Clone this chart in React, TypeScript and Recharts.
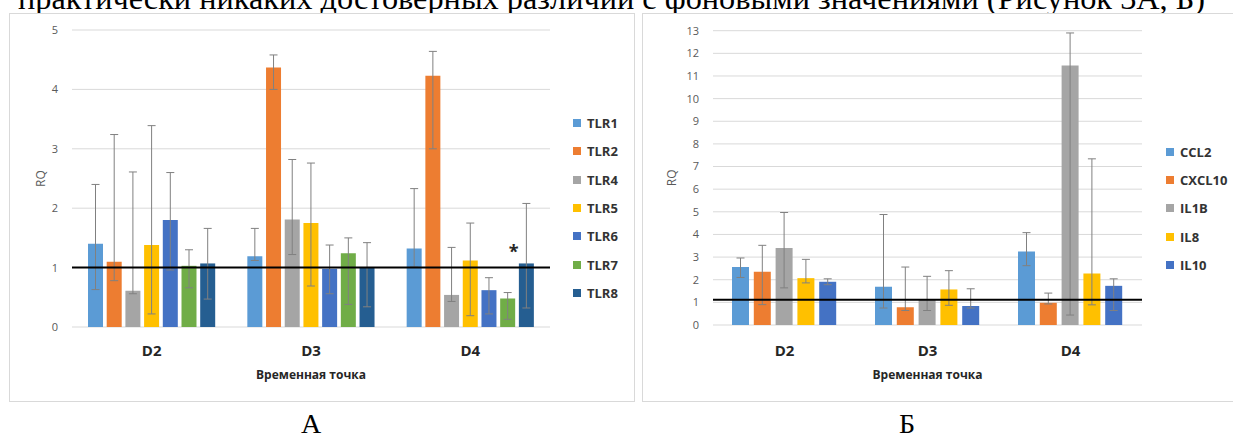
import React from 'react'
import {
  Bar,
  BarChart,
  CartesianGrid,
  ErrorBar,
  Label,
  LabelList,
  Legend,
  ReferenceLine,
  XAxis,
  YAxis,
} from 'recharts'

const FONT = '"Open Sans", "Liberation Sans", sans-serif'
const SERIF = '"Liberation Serif", "Times New Roman", serif'

const days = ['D2', 'D3', 'D4']

// --- Рисунок А: TLR
const tlrNames = ['TLR1', 'TLR2', 'TLR4', 'TLR5', 'TLR6', 'TLR7', 'TLR8']
const tlrColors = ['#5B9BD5', '#ED7D31', '#A5A5A5', '#FFC000', '#4472C4', '#70AD47', '#255E91']
const tlrValues = [
  [1.4, 1.19, 1.32],
  [1.1, 4.37, 4.23],
  [0.61, 1.81, 0.54],
  [1.38, 1.75, 1.12],
  [1.8, 0.98, 0.62],
  [1.03, 1.24, 0.48],
  [1.07, 1.01, 1.07],
]
const tlrHigh = [
  [2.4, 1.66, 2.33],
  [3.24, 4.58, 4.64],
  [2.61, 2.82, 1.34],
  [3.39, 2.76, 1.75],
  [2.6, 1.38, 0.83],
  [1.3, 1.5, 0.58],
  [1.66, 1.42, 2.08],
]
const tlrLow = [
  [0.63, 1.12, 1.01],
  [0.78, 4.0, 3.0],
  [0.56, 1.22, 0.43],
  [0.22, 0.69, 0.19],
  [0.96, 0.56, 0.22],
  [0.66, 0.38, 0.13],
  [0.47, 0.34, 0.32],
]
const tlr7Marks = ['', '', '*']
const tlrTicks = [0, 1, 2, 3, 4, 5]
const tlrBaseline = 1

// --- Рисунок Б: цитокины
const cytNames = ['CCL2', 'CXCL10', 'IL1B', 'IL8', 'IL10']
const cytColors = ['#5B9BD5', '#ED7D31', '#A5A5A5', '#FFC000', '#4472C4']
const cytValues = [
  [2.56, 1.69, 3.25],
  [2.35, 0.78, 0.98],
  [3.4, 1.12, 11.46],
  [2.07, 1.57, 2.28],
  [1.91, 0.84, 1.73],
]
const cytHigh = [
  [2.96, 4.88, 4.08],
  [3.52, 2.56, 1.41],
  [4.97, 2.15, 12.9],
  [2.9, 2.4, 7.34],
  [2.04, 1.6, 2.04],
]
const cytLow = [
  [2.1, 0.75, 2.62],
  [0.9, 0.64, 0.93],
  [1.64, 0.64, 0.44],
  [1.86, 0.87, 0.89],
  [1.78, 0.75, 0.64],
]
const cytTicks = [0, 1, 2, 3, 4, 5, 6, 7, 8, 9, 10, 11, 12, 13]
const cytBaseline = 1.12

function buildRows(names: string[], values: number[][], low: number[][], high: number[][]) {
  return days.map((day, i) => {
    const row: Record<string, any> = { day }
    names.forEach((n, k) => {
      const v = values[k][i]
      row[n] = v
      row[n + '_err'] = [v - low[k][i], high[k][i] - v]
    })
    return row
  })
}

const tlrRows = buildRows(tlrNames, tlrValues, tlrLow, tlrHigh).map((r, i) => ({
  ...r,
  TLR7_mark: tlr7Marks[i],
}))
const cytRows = buildRows(cytNames, cytValues, cytLow, cytHigh)

function GeneLegend(props: any) {
  const order: string[] = props.order || []
  const items = [...(props.payload || [])].sort(
    (a: any, b: any) => order.indexOf(a.value) - order.indexOf(b.value),
  )
  return (
    <ul style={{ listStyle: 'none', margin: 0, padding: 0 }}>
      {items.map((it: any) => (
        <li
          key={it.value}
          style={{
            height: 28.3,
            display: 'flex',
            alignItems: 'center',
            fontFamily: FONT,
            fontWeight: 700,
            fontSize: 13,
            color: '#333',
            whiteSpace: 'nowrap',
          }}
        >
          <span
            style={{ display: 'inline-block', width: 8, height: 8, background: it.color, marginRight: 6 }}
          />
          {it.value}
        </li>
      ))}
    </ul>
  )
}

type PanelProps = {
  rows: any[]
  names: string[]
  colors: string[]
  ticks: number[]
  baseline: number
  width: number
  height: number
  margin: { top: number; right: number; bottom: number; left: number }
  yAxisWidth: number
  xAxisHeight: number
  barSize: number
  barGap: number
  rqX: number
  dayGap: number
  titleGap: number
  legendLeft: number
  legendTop: number
  withMark?: boolean
}

function Panel(p: PanelProps) {
  return (
    <BarChart
      width={p.width}
      height={p.height}
      data={p.rows}
      margin={p.margin}
      barSize={p.barSize}
      barGap={p.barGap}
    >
      <CartesianGrid vertical={false} stroke="#d9d9d9" />
      <XAxis
        dataKey="day"
        axisLine={false}
        tickLine={false}
        tickSize={0}
        tickMargin={p.dayGap}
        height={p.xAxisHeight}
        tick={{ fontFamily: FONT, fontSize: 15, fontWeight: 700, fill: '#262626' }}
      >
        <Label
          content={({ viewBox }: any) => (
            <text
              x={viewBox.x + viewBox.width / 2}
              y={viewBox.y + p.titleGap}
              textAnchor="middle"
              fontFamily={FONT}
              fontSize={12}
              fontWeight={700}
              fill="#262626"
            >
              Временная точка
            </text>
          )}
        />
      </XAxis>
      <YAxis
        width={p.yAxisWidth}
        domain={[0, p.ticks[p.ticks.length - 1]]}
        ticks={p.ticks}
        interval={0}
        axisLine={false}
        tickLine={false}
        tickSize={0}
        tickMargin={14}
        tick={{ fontFamily: FONT, fontSize: 11, fill: '#595959' }}
      >
        <Label
          content={({ viewBox }: any) => {
            const cx = viewBox.x + p.rqX
            const cy = viewBox.y + viewBox.height / 2
            return (
              <text
                x={cx}
                y={cy}
                transform={`rotate(-90 ${cx} ${cy})`}
                textAnchor="middle"
                dominantBaseline="central"
                fontFamily={FONT}
                fontSize={12}
                fill="#595959"
              >
                RQ
              </text>
            )
          }}
        />
      </YAxis>
      <Legend
        layout="horizontal"
        align="center"
        verticalAlign="middle"
        wrapperStyle={{ left: p.legendLeft, top: p.legendTop, width: 90 }}
        content={<GeneLegend order={p.names} />}
      />
      {p.names.map((n, k) => (
        <Bar key={n} dataKey={n} name={n} fill={p.colors[k]} isAnimationActive={false}>
          <ErrorBar dataKey={n + '_err'} width={4} stroke="#808080" strokeWidth={1} direction="y" />
          {p.withMark && n === 'TLR7' ? (
            <LabelList
              dataKey="TLR7_mark"
              content={(lp: any) =>
                lp.value ? (
                  <text
                    x={lp.x + lp.width / 2 + 6}
                    y={lp.y - 40}
                    textAnchor="middle"
                    fontFamily={FONT}
                    fontSize={18}
                    fontWeight={700}
                    fill="#262626"
                  >
                    {lp.value}
                  </text>
                ) : null
              }
            />
          ) : null}
        </Bar>
      ))}
      <ReferenceLine y={p.baseline} stroke="#000" strokeWidth={2} />
    </BarChart>
  )
}

const frame: React.CSSProperties = {
  position: 'absolute',
  border: '1px solid #d9d9d9',
  background: '#fff',
  boxSizing: 'border-box',
}

const caption: React.CSSProperties = {
  position: 'absolute',
  top: 412.5,
  transform: 'translateX(-50%)',
  fontFamily: SERIF,
  fontSize: 28,
  lineHeight: '22px',
}

export default function App() {
  return (
    <div style={{ position: 'relative', width: 1233, height: 436, overflow: 'hidden', background: '#fff' }}>
      <style>{'body{margin:0}'}</style>
      <div
        style={{
          position: 'absolute',
          left: 18,
          top: -19,
          fontFamily: SERIF,
          fontSize: 32.3,
          lineHeight: '34px',
          whiteSpace: 'nowrap',
          color: '#000',
        }}
      >
        практически никаких достоверных различий с фоновыми значениями (Рисунок 3А, Б)
      </div>

      <div style={{ ...frame, left: 9, top: 13, width: 626, height: 389 }}>
        <Panel
          rows={tlrRows}
          names={tlrNames}
          colors={tlrColors}
          ticks={tlrTicks}
          baseline={tlrBaseline}
          width={624}
          height={387}
          margin={{ top: 16, right: 84, bottom: 0, left: 0 }}
          yAxisWidth={62}
          xAxisHeight={74}
          barSize={15}
          barGap={3.7}
          rqX={30}
          dayGap={18}
          titleGap={52}
          legendLeft={563}
          legendTop={95}
          withMark
        />
      </div>

      <div style={{ ...frame, left: 642, top: 13, width: 593, height: 389 }}>
        <Panel
          rows={cytRows}
          names={cytNames}
          colors={cytColors}
          ticks={cytTicks}
          baseline={cytBaseline}
          width={591}
          height={387}
          margin={{ top: 16.7, right: 92, bottom: 0, left: 0 }}
          yAxisWidth={70}
          xAxisHeight={76}
          barSize={17}
          barGap={4.8}
          rqX={29}
          dayGap={20}
          titleGap={54}
          legendLeft={523}
          legendTop={123.5}
        />
      </div>

      <div style={{ ...caption, left: 311 }}>А</div>
      <div style={{ ...caption, left: 907 }}>Б</div>
    </div>
  )
}
